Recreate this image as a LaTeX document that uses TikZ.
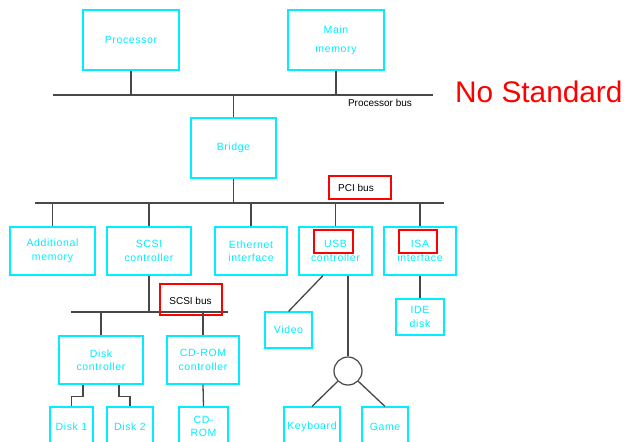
\documentclass[tikz,border=0pt]{standalone}
\usepackage{fontspec}
\setmainfont{Liberation Sans}
\newfontfamily\unitfont[LetterSpace=6]{Liberation Sans}
\definecolor{wire}{RGB}{72,72,72}
\definecolor{unit}{RGB}{0,238,255}
\begin{document}
\begin{tikzpicture}[x=1pt,y=-1pt,
  box/.style={draw=unit, line width=1.1pt, text=unit, align=center,
    inner sep=0pt, font=\unitfont\fontsize{10.5}{13.5}\selectfont},
  conn/.style={draw=wire, line width=1.3pt},
  busline/.style={draw=wire, line width=1.3pt},
  redmark/.style={draw=red, line width=1.6pt, inner sep=0pt},
  buslabel/.style={font=\fontsize{10}{12}\selectfont, text=black, inner sep=0pt}]
\clip (0,0) rectangle (625,442);
\fill[white] (0,0) rectangle (625,442);

% top level: processor and memory on the processor bus
\node[box, minimum width=96, minimum height=60] (proc) at (131,40) {Processor};
\node[box, minimum width=96, minimum height=60, font=\unitfont\fontsize{10.5}{19}\selectfont] (mem) at (336,40) {Main\\memory};
\coordinate (pbusL) at (53,95);
\coordinate (pbusR) at (433,95);
\draw[busline] (pbusL) -- (pbusR);
\node[buslabel] (pbuslbl) at (380,103) {Processor bus};
\node[anchor=base west, text=red, inner sep=0pt, font=\fontsize{29.8}{31}\selectfont] (nostd) at (455,102) {No Standard};

\node[box, minimum width=85, minimum height=60] (bridge) at (233.5,148) {Bridge};

% PCI bus
\coordinate (pciL) at (35,203);
\coordinate (pciR) at (444,203);
\draw[busline] (pciL) -- (pciR);
\node[redmark, minimum width=62, minimum height=23] (pcimark) at (360,187.5) {};
\node[buslabel] (pcilbl) at (356,187.5) {PCI bus};

\node[box, minimum width=85, minimum height=48] (addmem) at (52.5,251) {Additional\\memory};
\node[box, minimum width=84, minimum height=48] (scsi) at (149,251) {SCSI\\controller};
\node[box, minimum width=72, minimum height=48] (eth) at (251,251) {Ethernet\\interface};
\node[box, minimum width=73, minimum height=48] (usb) at (335.5,251) {USB\\controller};
\node[box, minimum width=72, minimum height=48] (isa) at (420,251) {ISA\\interface};
\node[redmark, minimum width=39, minimum height=23] (usbmark) at (333.5,241.5) {};
\node[redmark, minimum width=38, minimum height=23] (isamark) at (418,241.5) {};

% SCSI bus
\coordinate (scsiL) at (71,312);
\coordinate (scsiR) at (228,312);
\draw[busline] (scsiL) -- (scsiR);
\node[redmark, minimum width=62, minimum height=31] (scsimark) at (191,299.5) {};
\node[buslabel] (scsilbl) at (190.5,301) {SCSI bus};

\node[box, minimum width=84, minimum height=48] (dctrl) at (101,360) {Disk\\controller};
\node[box, minimum width=72, minimum height=48] (cdctrl) at (203,360) {CD-ROM\\controller};
\node[box, minimum width=43, minimum height=39] (disk1) at (71.5,426.5) {Disk 1};
\node[box, minimum width=46, minimum height=39] (disk2) at (130,426.5) {Disk 2};
\node[box, minimum width=49, minimum height=39] (cdrom) at (203.5,426.5) {CD-\\ROM};

\node[box, minimum width=47, minimum height=36] (video) at (288.5,330) {Video};
\node[box, minimum width=48, minimum height=36] (ide) at (420,317) {IDE\\disk};
\node[draw=wire, line width=1.2pt, circle, minimum size=28, inner sep=0pt] (hub) at (348,371) {};
\node[box, minimum width=56, minimum height=39] (kbd) at (312,426.5) {Keyboard};
\node[box, minimum width=46, minimum height=39] (game) at (385,426.5) {Game};

% drops onto the buses
\draw[conn] (proc.south) -- (proc.south |- pbusL);
\draw[conn] (mem.south) -- (mem.south |- pbusL);
\draw[conn] (bridge.north) -- (bridge.north |- pbusL);
\draw[conn] (bridge.south) -- (bridge.south |- pciL);
\foreach \n in {addmem,scsi,eth,usb,isa}
  \draw[conn] (\n.north) -- (\n.north |- pciL);
\draw[conn] (scsi.south) -- (scsi.south |- scsiL);
\draw[conn] (dctrl.north) -- (dctrl.north |- scsiL);
\draw[conn] (cdctrl.north) -- (cdctrl.north |- scsiL);

% devices below the controllers
\draw[conn] ([xshift=-18pt]dctrl.south) -- ++(0,12) -| (disk1.north);
\draw[conn] ([xshift=18pt]dctrl.south) -- ++(0,12) -| (disk2.north);
\draw[conn] (cdctrl.south) -- (cdrom.north);
\draw[conn] (isa.south) -- (ide.north);
\draw[conn] ([xshift=-12.5pt]usb.south) -- (video.north);
\draw[conn] ([xshift=12.5pt]usb.south) -- (hub.north);
\draw[conn] (hub.-135) -- (kbd.north);
\draw[conn] (hub.-45) -- (game.north);
\end{tikzpicture}
\end{document}
